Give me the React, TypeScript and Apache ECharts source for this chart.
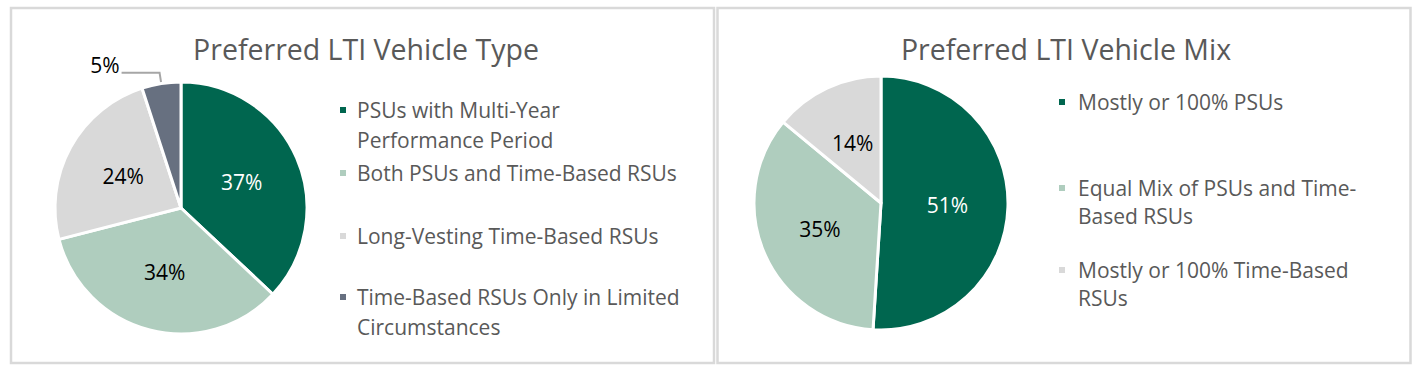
import React, { useEffect, useRef } from "react";
import * as echarts from "echarts";

const typeTitle = "Preferred LTI Vehicle Type";
const typeNames = [
  "PSUs with Multi-Year Performance Period",
  "Both PSUs and Time-Based RSUs",
  "Long-Vesting Time-Based RSUs",
  "Time-Based RSUs Only in Limited Circumstances",
];
const typeLegendText = [
  "PSUs with Multi-Year\nPerformance Period",
  "Both PSUs and Time-Based RSUs",
  "Long-Vesting Time-Based RSUs",
  "Time-Based RSUs Only in Limited\nCircumstances",
];
const typeValues = [37, 34, 24, 5];
const typeColors = ["#00664F", "#AFCDBE", "#D9D9D9", "#677080"];

const mixTitle = "Preferred LTI Vehicle Mix";
const mixNames = [
  "Mostly or 100% PSUs",
  "Equal Mix of PSUs and Time-Based RSUs",
  "Mostly or 100% Time-Based RSUs",
];
const mixLegendText = [
  "Mostly or 100% PSUs",
  "Equal Mix of PSUs and Time-\nBased RSUs",
  "Mostly or 100% Time-Based\nRSUs",
];
const mixValues = [51, 35, 14];
const mixColors = ["#00664F", "#AFCDBE", "#D9D9D9"];

const FONT = "Open Sans";
const TXT = "#595959";

// square marker on the left, with an invisible point that widens the icon box
const iconPath = (w: number) =>
  `path://M0,0L8,0L8,8L0,8Z M${w - 0.01},7.99L${w},7.99L${w},8L${w - 0.01},8Z`;

export default function App() {
  const ref = useRef<HTMLDivElement>(null);
  useEffect(() => {
    document.body.style.margin = "0";
    const chart = echarts.init(ref.current!, null, { renderer: "svg" });

    const legendFor = (
      name: string,
      text: string,
      left: number,
      iconY: number,
      lh: number,
      w: number
    ) => {
      const two = text.includes("\n");
      const shown = two ? "\n" + text : text;
      return {
        left,
        top: two ? iconY - 1.5 * lh : iconY - lh / 2,
        orient: "vertical",
        padding: 0,
        data: [name],
        icon: iconPath(w),
        itemWidth: w,
        itemHeight: 8,
        itemGap: 0,
        selectedMode: false,
        formatter: () => shown,
        textStyle: {
          fontFamily: FONT,
          fontSize: 21,
          color: TXT,
          lineHeight: lh,
        },
      };
    };

    const legends: any[] = [];
    const typeY = [110, 173, 236, 297];
    typeNames.forEach((n, i) =>
      legends.push(legendFor(n, typeLegendText[i], 338, typeY[i], 30, 13))
    );
    const mixY = [102, 188, 270];
    mixNames.forEach((n, i) =>
      legends.push(legendFor(n, mixLegendText[i], 1057, mixY[i], 28, 15))
    );

    const labelBase = {
      show: true,
      position: "inside",
      formatter: "{c}%",
      fontFamily: FONT,
      fontSize: 21,
      color: "#000",
    };

    const titleStyle = { fontFamily: FONT, fontSize: 28.5, fontWeight: "normal", color: TXT };

    chart.setOption({
      animation: false,
      title: [
        { text: typeTitle, left: 361, top: 29, textAlign: "center", textStyle: titleStyle },
        { text: mixTitle, left: 1061, top: 29, textAlign: "center", textStyle: titleStyle },
      ],
      legend: legends,
      graphic: [
        {
          type: "rect",
          shape: { x: 11, y: 8, width: 703, height: 355 },
          style: { fill: "none", stroke: "#D9D9D9", lineWidth: 2.5 },
          silent: true,
        },
        {
          type: "rect",
          shape: { x: 717.5, y: 8, width: 693, height: 355 },
          style: { fill: "none", stroke: "#D9D9D9", lineWidth: 2.5 },
          silent: true,
        },
      ],
      series: [
        {
          type: "pie",
          center: [181, 208],
          radius: 126,
          startAngle: 90,
          clockwise: true,
          itemStyle: { borderColor: "#fff", borderWidth: 3 },
          label: labelBase,
          labelLine: { show: false },
          data: typeValues.map((v, i) => {
            const d: any = { name: typeNames[i], value: v, itemStyle: { color: typeColors[i] } };
            if (i === 0) d.label = { color: "#fff" };
            if (i === 3) {
              d.label = {
                position: "outside",
                color: "#000",
                formatter: "{c}%\n",
                lineHeight: 16,
                distanceToLabelLine: 2,
              };
              d.labelLine = {
                show: true,
                length: 11,
                length2: 38,
                lineStyle: { color: "#A6A6A6", width: 2 },
              };
            }
            return d;
          }),
        },
        {
          type: "pie",
          center: [881, 203],
          radius: 127,
          startAngle: 90,
          clockwise: true,
          itemStyle: { borderColor: "#fff", borderWidth: 3 },
          label: labelBase,
          labelLine: { show: false },
          data: mixValues.map((v, i) => {
            const d: any = { name: mixNames[i], value: v, itemStyle: { color: mixColors[i] } };
            if (i === 0) d.label = { color: "#fff" };
            return d;
          }),
        },
      ],
    });
    return () => chart.dispose();
  }, []);
  return <div ref={ref} style={{ width: 1424, height: 375 }} />;
}
